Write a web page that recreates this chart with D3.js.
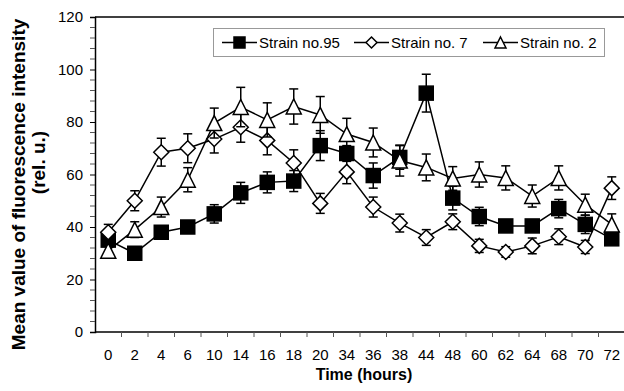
<!DOCTYPE html>
<html>
<head>
<meta charset="utf-8">
<script src="https://cdn.jsdelivr.net/npm/d3@7"></script>
<style>
  html, body { margin: 0; padding: 0; background: #fff; }
  svg { display: block; font-family: "Liberation Sans", Arial, sans-serif; }
</style>
</head>
<body>
<svg id="chart" width="624" height="391"></svg>
<script>
// Sampling times (hours), treated as evenly spaced categories
const hours = ["0","2","4","6","10","14","16","18","20","34","36","38","44","48","60","62","64","68","70","72"];

// Mean fluorescence intensity (rel. u.) and its error per strain
const strain95 = [35, 30, 38, 40, 45, 53, 57, 57.5, 71, 68, 59.6, 66.5, 91, 51, 44, 40.4, 40.4, 47, 41, 35.5];
const strain95Err = [2, 1, 2, 2, 3.5, 4, 4, 4, 5.7, 3, 4.8, 4.5, 7.2, 4.5, 3.5, 2, 2, 3.5, 3.5, 2];
const strain7 = [38, 50, 68.5, 70, 73.5, 78, 73, 64.4, 49, 61, 47.6, 41.5, 36, 42, 32.8, 30.5, 32.8, 36.3, 32.4, 54.8];
const strain7Err = [3, 3.8, 5.3, 5.5, 5.3, 5.7, 5.5, 5, 3.8, 4.5, 3.8, 3.4, 3, 3, 2.5, 2, 3, 3, 2.5, 4.3];
const strain2 = [31, 39, 47.6, 58, 79.6, 85.7, 80.8, 85.9, 82.7, 75.4, 72.2, 65.3, 62.7, 58.5, 60, 58.7, 51.8, 58.7, 48.5, 41];
const strain2Err = [2, 3, 3.8, 4.6, 5.7, 7.5, 6.5, 6.7, 7, 6, 5.5, 5.9, 5.1, 4.5, 4.8, 4.6, 4.2, 4.6, 4, 4];

const yTicks = [0, 20, 40, 60, 80, 100, 120];
const seriesNames = ["Strain no.95", "Strain no. 7", "Strain no. 2"];

const svg = d3.select("#chart");
const plotLeft = 95, plotRight = 625, plotTop = 17, plotBottom = 332;

const x = d3.scaleBand().domain(hours).range([plotLeft, plotRight]).padding(0);
const y = d3.scaleLinear().domain([0, 120]).range([plotBottom, plotTop]);

// Frame: top border line
svg.append("line")
  .attr("x1", plotLeft).attr("x2", 624).attr("y1", plotTop).attr("y2", plotTop)
  .attr("stroke", "#000").attr("stroke-width", 1.5);

// Y axis with minor ticks every 4 units
const yAxis = svg.append("g").attr("transform", `translate(${plotLeft},0)`)
  .call(d3.axisLeft(y).tickValues(yTicks).tickSize(5).tickPadding(7).tickFormat(d3.format("d")));
yAxis.select(".domain").attr("stroke-width", 1.5);
yAxis.selectAll(".tick line").attr("stroke-width", 1);
yAxis.selectAll(".tick text").attr("font-size", 15).attr("fill", "#000")
  .attr("font-family", "Liberation Sans, Arial, sans-serif");
svg.append("g").selectAll("line")
  .data(d3.range(0, 121, 4).filter(v => v % 20 !== 0))
  .join("line")
  .attr("x1", plotLeft - 5).attr("x2", plotLeft)
  .attr("y1", d => y(d)).attr("y2", d => y(d))
  .attr("stroke", "#555").attr("stroke-width", 1);

// X axis: labels centred in each category, ticks at category boundaries
const xAxis = svg.append("g").attr("transform", `translate(0,${plotBottom})`)
  .call(d3.axisBottom(x).tickSize(0).tickPadding(17).tickSizeOuter(0));
xAxis.select(".domain").attr("stroke-width", 1.5).attr("d", `M${plotLeft},0H624`);
xAxis.selectAll(".tick text").attr("font-size", 15).attr("fill", "#000")
  .attr("font-family", "Liberation Sans, Arial, sans-serif");
svg.append("g").selectAll("line")
  .data(hours.slice(1))
  .join("line")
  .attr("x1", d => x(d)).attr("x2", d => x(d))
  .attr("y1", plotBottom).attr("y2", plotBottom + 5)
  .attr("stroke", "#555").attr("stroke-width", 1);

// Axis titles
svg.append("text")
  .attr("x", 364).attr("y", 380)
  .attr("text-anchor", "middle").attr("font-size", 16).attr("font-weight", "bold")
  .text("Time (hours)");
svg.append("text")
  .attr("transform", "translate(25,184.5) rotate(-90)")
  .attr("text-anchor", "middle").attr("font-size", 19).attr("font-weight", "bold")
  .text("Mean value of fluorescence intensity");
svg.append("text")
  .attr("transform", "translate(45,162.5) rotate(-90)")
  .attr("text-anchor", "middle").attr("font-size", 19).attr("font-weight", "bold")
  .text("(rel. u.)");

// Marker shapes
function drawMarker(g, kind, s) {
  if (kind === "square") {
    g.append("rect").attr("x", -s / 2).attr("y", -s / 2).attr("width", s).attr("height", s)
      .attr("fill", "#000").attr("stroke", "#000").attr("stroke-width", 1.5);
  } else if (kind === "diamond") {
    const h = s / 2;
    g.append("path").attr("d", `M0,${-h}L${h},0L0,${h}L${-h},0Z`)
      .attr("fill", "#fff").attr("stroke", "#000").attr("stroke-width", 1.5);
  } else {
    const h = s / 2;
    g.append("path").attr("d", `M0,${-h}L${h},${h}L${-h},${h}Z`)
      .attr("fill", "#fff").attr("stroke", "#000").attr("stroke-width", 1.5);
  }
}

const series = [
  { values: strain95, errs: strain95Err, kind: "square", size: 14 },
  { values: strain7, errs: strain7Err, kind: "diamond", size: 15 },
  { values: strain2, errs: strain2Err, kind: "triangle", size: 15 }
];

const cx = d => x(d) + x.bandwidth() / 2;
const line = d3.line().x(d => cx(d.h)).y(d => y(d.v));

series.forEach(s => {
  const pts = hours.map((h, i) => ({ h, v: s.values[i], e: s.errs[i] }));
  const g = svg.append("g");
  // error bars
  const eb = g.append("g").attr("stroke", "#000").attr("stroke-width", 1.5);
  pts.forEach(p => {
    const X = cx(p.h), y1 = y(p.v + p.e), y2 = y(p.v - p.e);
    eb.append("line").attr("x1", X).attr("x2", X).attr("y1", y1).attr("y2", y2);
    eb.append("line").attr("x1", X - 4.5).attr("x2", X + 4.5).attr("y1", y1).attr("y2", y1);
    eb.append("line").attr("x1", X - 4.5).attr("x2", X + 4.5).attr("y1", y2).attr("y2", y2);
  });
  g.append("path").datum(pts).attr("d", line)
    .attr("fill", "none").attr("stroke", "#000").attr("stroke-width", 1.5);
  pts.forEach(p => {
    const m = g.append("g").attr("transform", `translate(${cx(p.h)},${y(p.v)})`);
    drawMarker(m, s.kind, s.size);
  });
});

// Legend
const legend = svg.append("g");
legend.append("rect").attr("x", 213.5).attr("y", 28.5).attr("width", 391).attr("height", 28)
  .attr("fill", "#fff").attr("stroke", "#999").attr("stroke-width", 1);
const legendX = [222, 354, 483];
series.forEach((s, i) => {
  const lg = legend.append("g").attr("transform", `translate(${legendX[i]},42.5)`);
  lg.append("line").attr("x1", 0).attr("x2", 35).attr("y1", 0).attr("y2", 0)
    .attr("stroke", "#000").attr("stroke-width", 1.5);
  const m = lg.append("g").attr("transform", "translate(17.5,0)");
  drawMarker(m, s.kind, s.kind === "square" ? 11 : 11);
  lg.append("text").attr("x", 37).attr("y", 5.5).attr("font-size", 15).text(seriesNames[i]);
});
</script>
</body>
</html>
